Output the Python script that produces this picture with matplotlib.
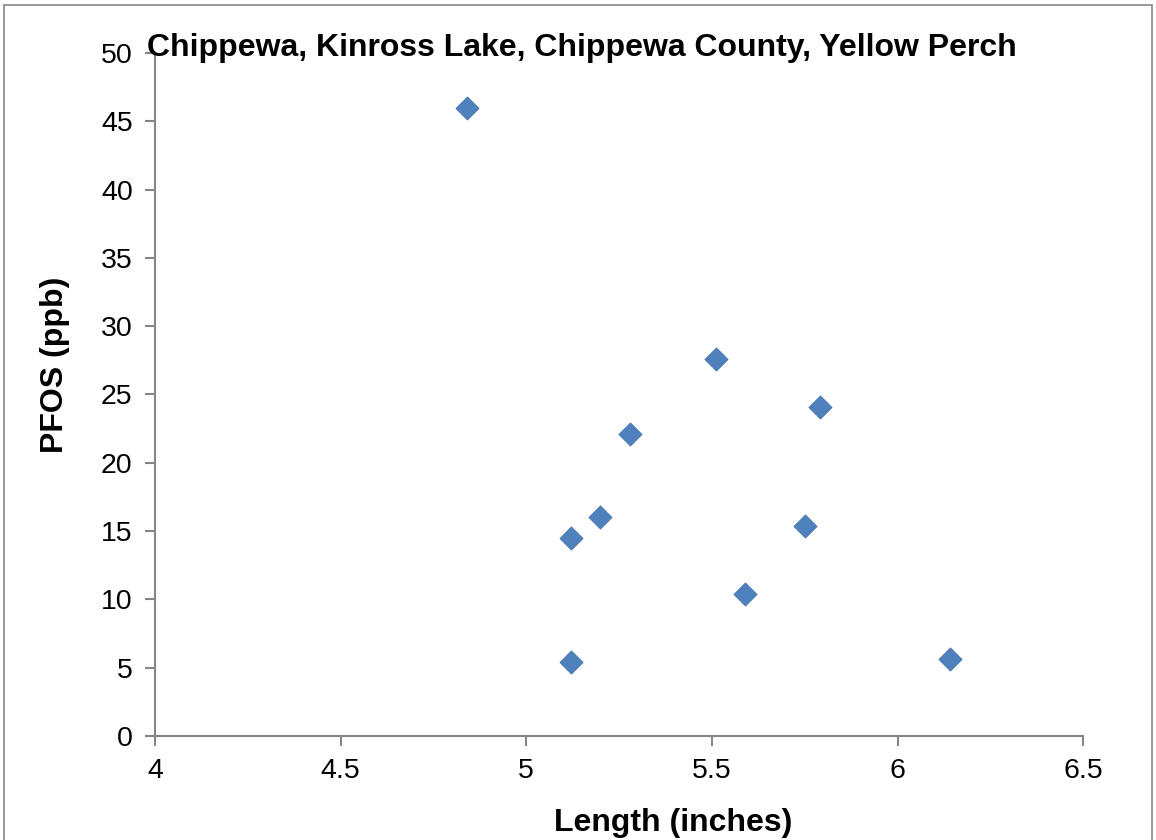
import matplotlib.pyplot as plt
from matplotlib.patches import Rectangle

plt.rcParams['font.family'] = ['Liberation Sans', 'DejaVu Sans']

# fish length (inches) vs PFOS (ppb)
length = [4.84, 5.12, 5.12, 5.20, 5.28, 5.51, 5.59, 5.75, 5.79, 6.14]
pfos = [46.0, 14.5, 5.4, 16.0, 22.1, 27.6, 10.4, 15.4, 24.1, 5.6]

x_ticks = [4, 4.5, 5, 5.5, 6, 6.5]
x_labels = ['4', '4.5', '5', '5.5', '6', '6.5']
y_ticks = [0, 5, 10, 15, 20, 25, 30, 35, 40, 45, 50]

fig = plt.figure(figsize=(11.56, 8.4), dpi=100)
ax = fig.add_axes([0.134, 0.124, 0.803, 0.813])

ax.scatter(length, pfos, marker='D', s=135, color='#4F81BD',
           edgecolors='#4A7AB5', linewidths=0.8, zorder=3, clip_on=False)

ax.set_xlim(4, 6.5)
ax.set_ylim(0, 50)
ax.set_xticks(x_ticks)
ax.set_xticklabels(x_labels)
ax.set_yticks(y_ticks)

for s in ['top', 'right']:
    ax.spines[s].set_visible(False)
for s in ['left', 'bottom']:
    ax.spines[s].set_color('#868686')
    ax.spines[s].set_linewidth(1.5)
ax.tick_params(axis='both', direction='out', length=7, width=1.5,
               color='#868686', labelsize=20.5, pad=9)

ax.set_xlabel('Length (inches)', fontsize=23, fontweight='bold', labelpad=17)
ax.set_ylabel('PFOS (ppb)', fontsize=23, fontweight='bold', labelpad=22)
# excel places the axis titles a bit off-centre
ax.xaxis.label.set_x(0.558)
ax.yaxis.label.set_y(0.543)

fig.text(0.127, 0.943, 'Chippewa, Kinross Lake, Chippewa County, Yellow Perch',
         fontsize=23, fontweight='bold', va='center', ha='left')

# outer chart border
fig.patches.append(Rectangle((4 / 1156, -0.05), 1148 / 1156, 1.05 - 5 / 840,
                             transform=fig.transFigure, fill=False,
                             edgecolor='#868686', linewidth=1.2))

fig.savefig('out.png', dpi=100)
